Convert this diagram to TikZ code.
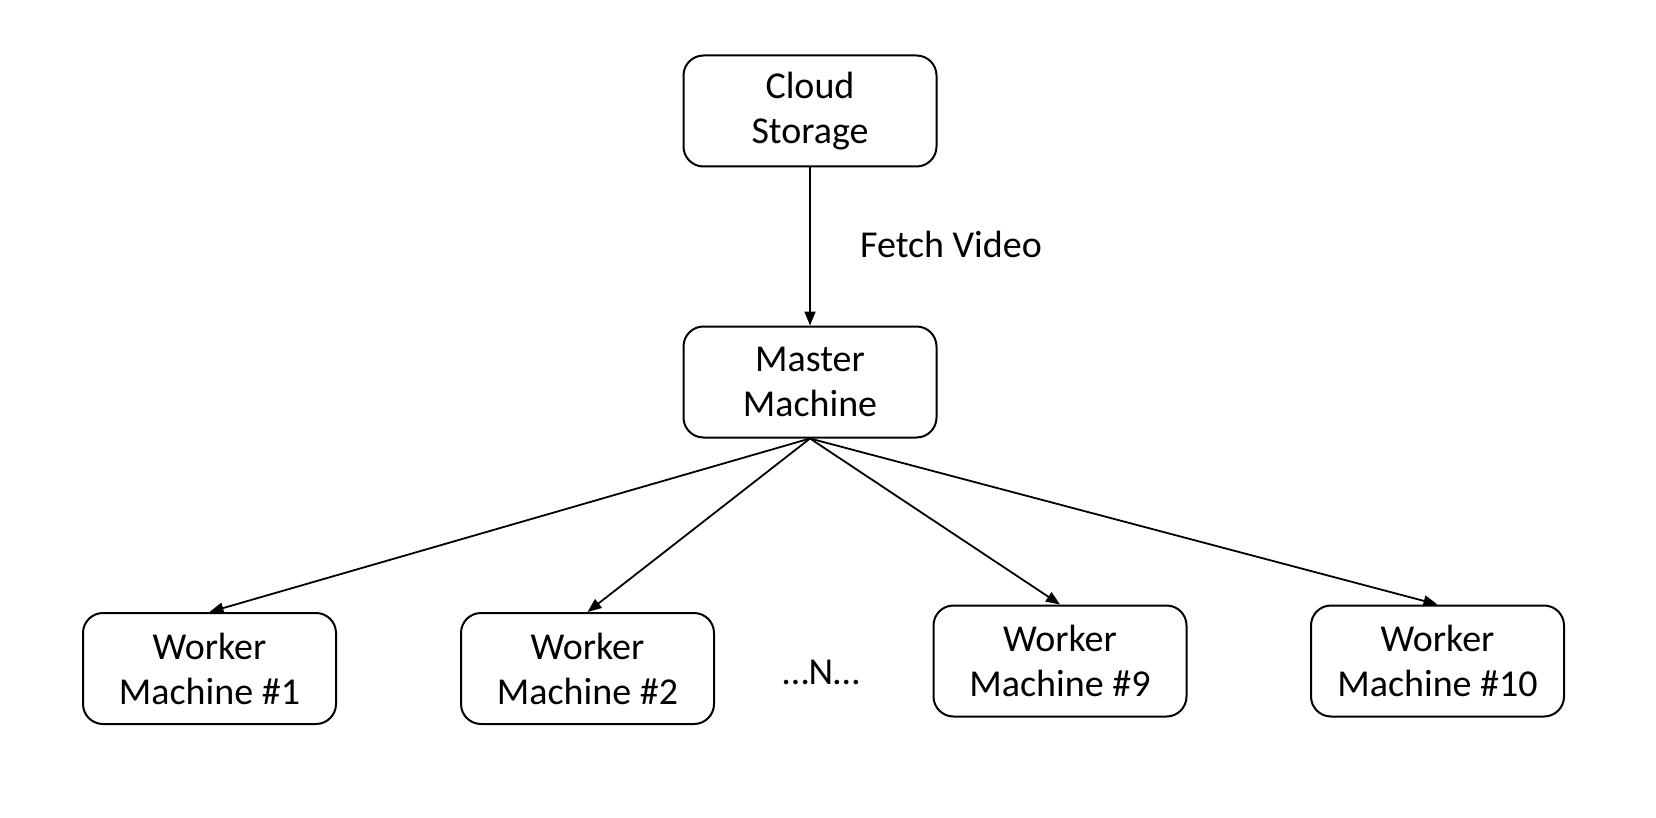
\documentclass[tikz,border=0pt]{standalone}
\usepackage{fontspec}
\setmainfont{Carlito}
\usetikzlibrary{arrows.meta}
\begin{document}
\begin{tikzpicture}[x=1pt,y=-1pt,
  box/.style={draw, line width=2pt, rounded corners=20pt, minimum width=253pt, minimum height=111pt, align=center, font=\fontsize{38}{45}\selectfont, inner sep=0pt},
  lbl/.style={font=\fontsize{38}{45}\selectfont, inner sep=0pt},
  arr/.style={line width=1.8pt, -{Triangle[length=14pt,width=11pt]}}]
\useasboundingbox (0,0) rectangle (1656,818);
\node[box] (cloud) at (810,111) {Cloud\\Storage};
\node[box] (master) at (810,382) {Master\\Machine};
\node[box] (w1) at (209.5,668.5) {Worker\\Machine \#1};
\node[box] (w2) at (587.5,668.5) {Worker\\Machine \#2};
\node[box] (w9) at (1060,661) {Worker\\Machine \#9};
\node[box] (w10) at (1437.5,661) {Worker\\Machine \#10};
\node[lbl] (dots) at (821,672) {…N…};
\node[lbl, anchor=base west] (fetch) at (860,258) {Fetch Video};
\draw[arr] (cloud.south) -- (master.north);
\draw[arr] (master.south) -- (w1.north);
\draw[arr] (master.south) -- (w2.north);
\draw[arr] (master.south) -- (w9.north);
\draw[arr] (master.south) -- (w10.north);
\end{tikzpicture}
\end{document}
